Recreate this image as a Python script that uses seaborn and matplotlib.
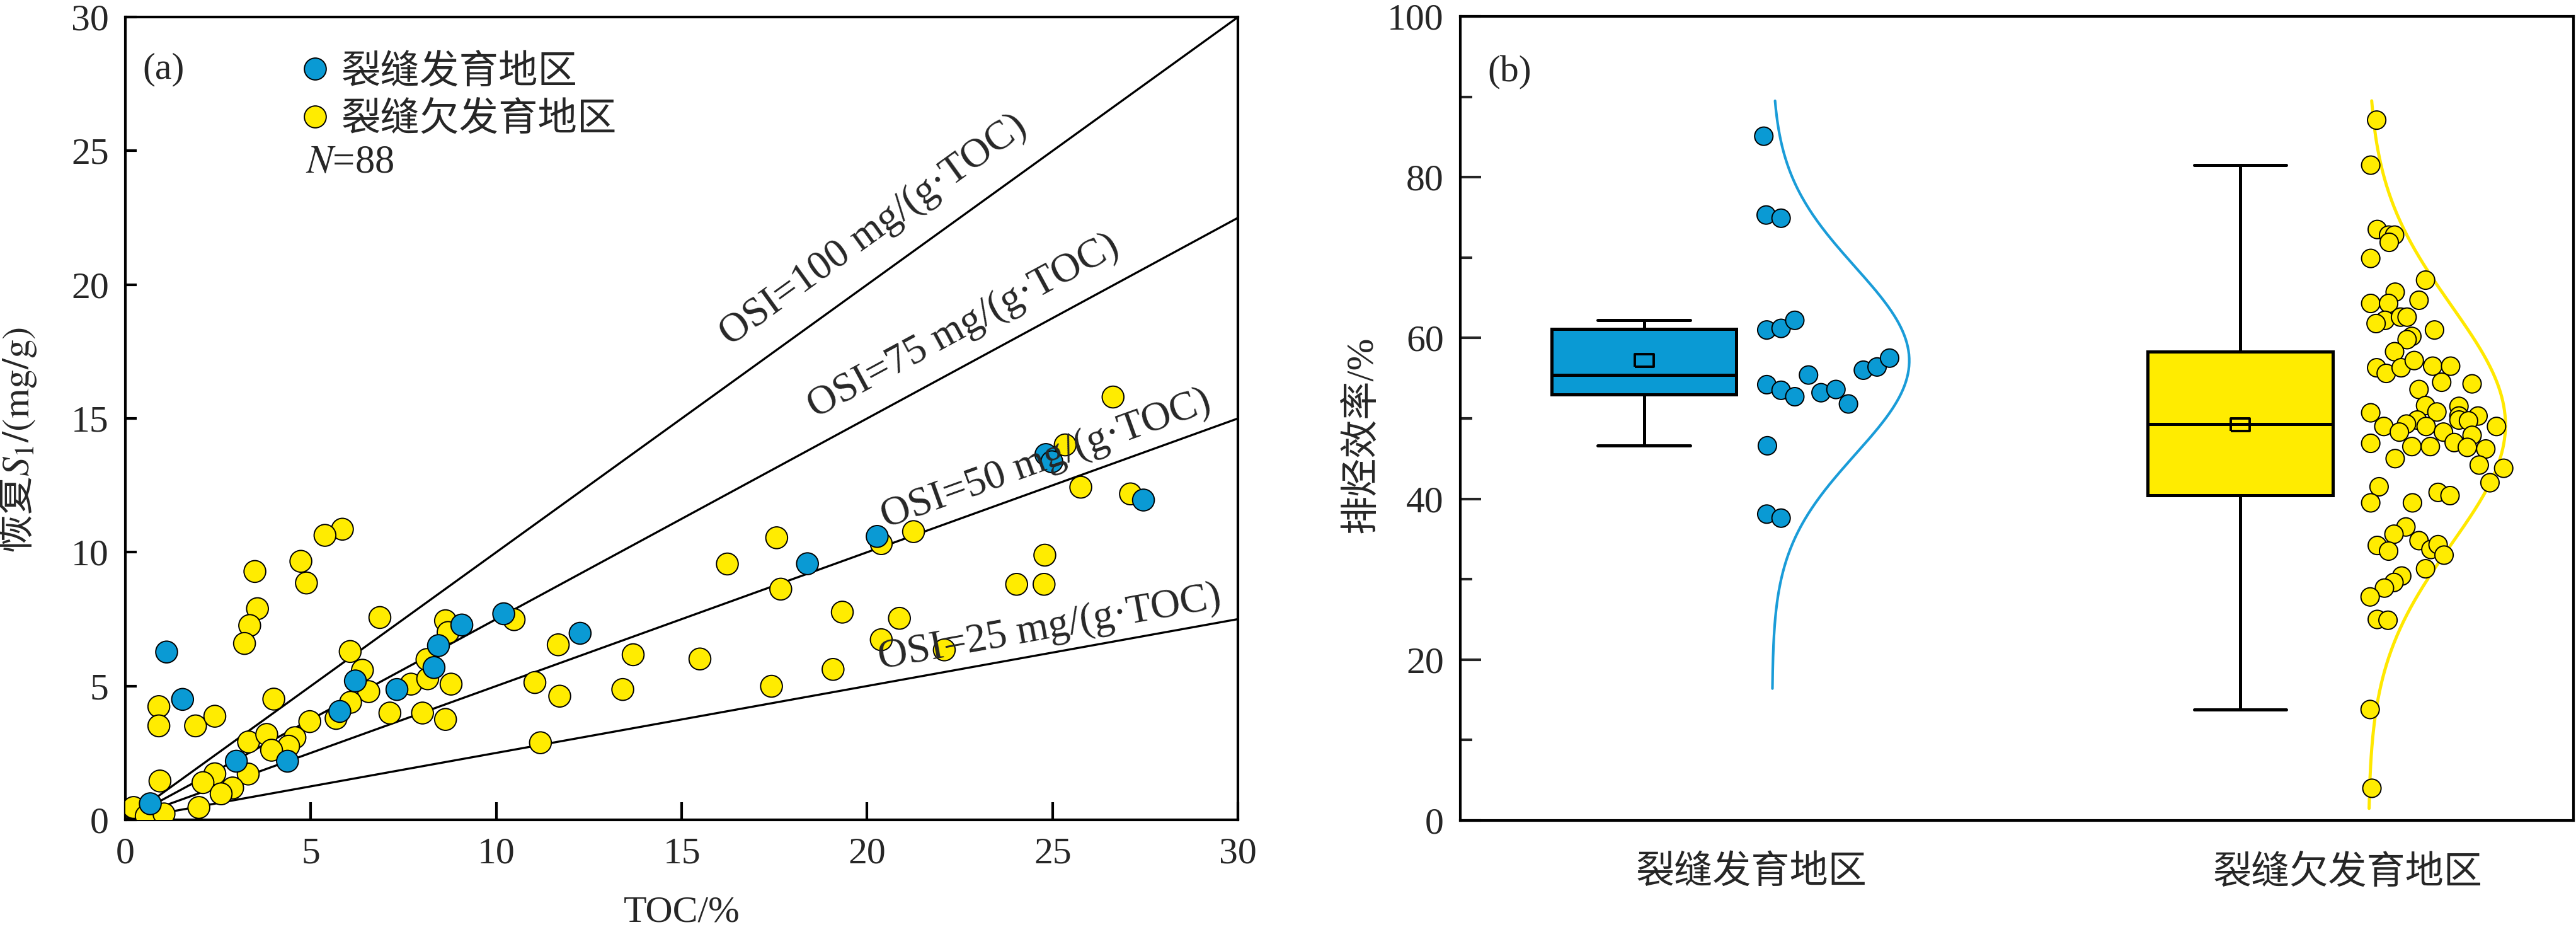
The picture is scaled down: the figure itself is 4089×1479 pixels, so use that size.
import numpy as np
import pandas as pd
import seaborn as sns
import matplotlib.pyplot as plt
from matplotlib.lines import Line2D

# (a) TOC x S1 recuperado
toc_blue = [1.11, 1.54, 0.67, 2.99, 4.37, 5.78, 6.20, 7.32, 8.32, 8.44, 9.07, 10.20,
            12.26, 18.39, 20.27, 24.82, 24.98, 27.45]
s1_blue = [6.27, 4.50, 0.60, 2.19, 2.19, 4.05, 5.19, 4.87, 5.69, 6.51, 7.28, 7.70,
           6.97, 9.57, 10.59, 13.65, 13.38, 11.95]

toc_yellow = [5.85, 5.38, 4.73, 4.88, 3.49, 3.56, 3.35, 3.21, 6.86, 6.06, 6.39, 6.56,
              6.07, 5.68, 0.90, 0.90, 1.89, 2.41, 4.00, 4.97, 3.32, 3.81, 4.57, 4.40,
              3.94, 3.31, 2.41, 2.09, 2.89, 2.58, 0.93, 1.98, 0.22, 0.56, 1.04, 7.13,
              8.01, 8.63, 7.70, 8.15, 8.13, 8.63, 8.70, 8.78,
              10.48, 11.67, 13.69, 15.49, 16.23, 11.04, 11.71, 13.41, 11.19,
              26.63, 25.34, 25.76, 27.10, 24.79, 24.03, 24.77, 17.56, 17.67, 19.33,
              20.87, 20.38, 21.25, 20.38, 22.08, 19.08, 17.42]
s1_yellow = [10.86, 10.63, 9.66, 8.85, 9.28, 7.89, 7.26, 6.59, 7.56, 6.29, 5.59, 4.79,
             4.39, 3.79, 4.23, 3.51, 3.51, 3.87, 4.51, 3.67, 2.91, 3.19, 3.07, 2.75,
             2.60, 1.71, 1.72, 1.39, 1.19, 0.97, 1.45, 0.46, 0.46, 0.14, 0.22, 3.99,
             3.99, 3.75, 5.07, 5.27, 5.99, 7.44, 7.00, 5.07,
             7.48, 6.54, 6.17, 6.01, 9.56, 5.13, 4.62, 4.87, 2.88,
             15.80, 14.01, 12.43, 12.18, 9.89, 8.80, 8.80, 10.54, 8.62, 7.76,
             7.53, 6.73, 10.77, 10.32, 6.35, 5.62, 4.99]

osi_values = [100, 75, 50, 25]

# (b) eficiencia de expulsao
groups = ["裂缝发育地区", "裂缝欠发育地区"]
eff_blue = [85.1, 75.3, 74.9, 61.0, 61.2, 62.2, 54.2, 53.5, 52.7, 55.4, 53.2, 53.6,
            51.8, 56.0, 56.4, 57.5, 46.6, 38.1, 37.6]
jit_blue = [0.021, 0.025, 0.050, 0.026, 0.050, 0.073, 0.026, 0.050, 0.073, 0.096, 0.117,
            0.142, 0.163, 0.188, 0.211, 0.232, 0.027, 0.026, 0.050]

eff_yellow = [87.1, 81.5, 73.5, 72.8, 72.8, 71.9, 69.9, 67.2, 65.7, 64.3, 64.3, 64.7,
              62.2, 61.8, 62.6, 62.6, 61.0, 60.2, 59.8, 58.3, 56.3, 55.6, 56.3, 57.2,
              56.5, 56.5, 54.5, 54.3, 53.6,
              51.6, 51.5, 50.8, 50.7, 50.3, 49.8, 50.3, 49.8, 49.7, 49.3, 49.0, 49.0,
              49.0, 48.3, 48.3, 47.9, 46.9, 46.5, 46.5, 47.0, 46.4, 46.2, 45.0, 44.2,
              43.8, 42.0,
              41.5, 39.5, 39.5, 40.8, 40.4, 36.5, 35.6, 34.2, 33.5, 34.8, 33.7, 34.3,
              33.0, 31.3, 30.4, 29.6, 28.9, 27.8, 25.0, 24.9, 13.8, 4.0]
jit_yellow = [0.049, 0.039, 0.050, 0.069, 0.079, 0.070, 0.039, 0.131, 0.080, 0.039, 0.069, 0.120,
              0.063, 0.048, 0.089, 0.100, 0.146, 0.108, 0.100, 0.079, 0.049, 0.065, 0.090, 0.112,
              0.143, 0.173, 0.158, 0.209, 0.120,
              0.131, 0.187, 0.150, 0.039, 0.219, 0.117, 0.187, 0.187, 0.203, 0.099, 0.061, 0.132,
              0.250, 0.087, 0.161, 0.209, 0.039, 0.108, 0.139, 0.179, 0.201, 0.232, 0.080, 0.221,
              0.262, 0.239,
              0.053, 0.039, 0.109, 0.152, 0.172, 0.098, 0.078, 0.050, 0.069, 0.120, 0.140, 0.152,
              0.162, 0.131, 0.091, 0.078, 0.062, 0.038, 0.050, 0.068, 0.038, 0.041]

c_blue = "#0A9AD4"
c_yellow = "#FFEC00"
curve_colors = ["#1A9CD8", "#FFE800"]

sns.set_style("ticks")
plt.rcParams['font.family'] = ['Liberation Serif', 'Noto Sans CJK SC']
plt.rcParams['mathtext.fontset'] = 'stix'
plt.rcParams['axes.unicode_minus'] = False

fig = plt.figure(figsize=(40.89, 14.79), dpi=100)
ax1 = fig.add_axes([0.0487, 0.1204, 0.4319, 0.8613])
ax2 = fig.add_axes([0.5669, 0.1197, 0.4321, 0.8627])

# ---------------- painel (a) ----------------
df_a = pd.DataFrame({
    "TOC": toc_yellow + toc_blue,
    "S1": s1_yellow + s1_blue,
    "grupo": [groups[1]] * len(toc_yellow) + [groups[0]] * len(toc_blue)})
pal = {groups[0]: c_blue, groups[1]: c_yellow}

x_line = np.array([0.0, 30.0])
for osi in osi_values:
    sns.lineplot(x=x_line, y=x_line * osi / 100, color="black", lw=2.4, ax=ax1, zorder=2)

sns.scatterplot(data=df_a, x="TOC", y="S1", hue="grupo", palette=pal, s=620,
                edgecolor="black", linewidth=1.4, legend=False, ax=ax1, zorder=3)

lab_pos = {100: (16.3, 17.7), 75: (18.6, 15.0), 50: (20.5, 10.9), 25: (20.35, 5.65)}
for osi in osi_values:
    x0, y0 = lab_pos[osi]
    ax1.text(x0, y0, f"OSI={osi} mg/(g·TOC)", rotation=np.degrees(np.arctan(osi / 100)),
             transform_rotates_text=True, rotation_mode="anchor", ha="left", va="baseline",
             fontsize=47, zorder=4)

handles = [Line2D([], [], ls="none", marker="o", ms=25, mfc=c, mec="black", mew=1.4)
           for c in (c_blue, c_yellow)]
ax1.legend(handles, groups, loc="upper left", bbox_to_anchor=(0.1455, 0.9725), frameon=False,
           fontsize=45, handletextpad=0.375, labelspacing=0.28, borderaxespad=0,
           handlelength=0.6)
ax1.text(0.162, 0.818, "$N$=88", transform=ax1.transAxes, va="center", fontsize=45)
ax1.text(0.0153, 0.935, "(a)", transform=ax1.transAxes, va="center", fontsize=43)

ax1.set_xlim(0, 30)
ax1.set_ylim(0, 30)
ax1.set_xticks(range(0, 31, 5))
ax1.set_yticks(range(0, 31, 5))
ax1.tick_params(axis="both", direction="in", width=3, labelsize=43, color="black")
ax1.tick_params(axis="x", length=20, pad=20)
ax1.tick_params(axis="y", length=13, pad=19)
ax1.set_xlabel("TOC/%", fontsize=43, labelpad=28)
ax1.set_ylabel(r"恢复$S_1/\mathrm{(mg/g)}$", fontsize=44, family="Noto Sans CJK SC")
ax1.yaxis.set_label_coords(-0.078, 0.473)
for sp in ax1.spines.values():
    sp.set_linewidth(3)
    sp.set_color("black")

# ---------------- painel (b) ----------------
df_b = pd.DataFrame({
    "组": [groups[0]] * len(eff_blue) + [groups[1]] * len(eff_yellow),
    "效率": eff_blue + eff_yellow,
    "偏移": jit_blue + jit_yellow})
df_b["code"] = df_b["组"].map({g: i for i, g in enumerate(groups)})
df_b["box_x"] = df_b["code"] - 0.18
df_b["pt_x"] = df_b["code"] + df_b["偏移"]

rect = [(-1.45, -1), (1.45, -1), (1.45, 1), (-1.45, 1), (-1.45, -1)]
sns.boxplot(data=df_b, x="box_x", y="效率", hue="组", palette=pal, native_scale=True,
            dodge=False, width=0.31, whis=1.5, showfliers=False, linewidth=3.6,
            linecolor="black", saturation=1, legend=False, showmeans=True,
            meanprops=dict(marker=rect, markerfacecolor="none", markeredgecolor="black",
                           markersize=21, markeredgewidth=2.8),
            ax=ax2)

sns.scatterplot(data=df_b, x="pt_x", y="效率", hue="组", palette=pal, s=440,
                edgecolor="black", linewidth=1.4, legend=False, ax=ax2, zorder=3)

# curva normal ajustada
curve_lw = [3.0, 3.6]
for i, g in enumerate(groups):
    v = df_b.loc[df_b["组"] == g, "效率"]
    mu, sd = v.mean(), v.std()
    yy = np.linspace(max(mu - 3.5 * sd, 1.5), min(mu + 3.5 * sd, 89.5), 300)
    xx = i + 0.035 + 0.23 * np.exp(-0.5 * ((yy - mu) / sd) ** 2)
    sns.lineplot(x=xx, y=yy, sort=False, estimator=None, color=curve_colors[i],
                 lw=curve_lw[i], ax=ax2)

ax2.text(0.0243, 0.930, "(b)", transform=ax2.transAxes, va="center", fontsize=43)

ax2.set_xlim(-0.488, 1.379)
ax2.set_ylim(0, 100)
ax2.set_xticks([0, 1])
ax2.set_xticklabels(groups)
ax2.set_yticks(range(0, 101, 20))
ax2.set_yticks(range(10, 100, 20), minor=True)
ax2.tick_params(axis="y", which="major", direction="in", length=24, width=3, labelsize=43, pad=19)
ax2.tick_params(axis="y", which="minor", direction="in", length=14, width=3)
ax2.tick_params(axis="x", length=0, labelsize=44, pad=40)
ax2.set_xlabel("")
ax2.set_ylabel("排烃效率/%", fontsize=44)
ax2.yaxis.set_label_coords(-0.072, 0.48)
for sp in ax2.spines.values():
    sp.set_linewidth(3)
    sp.set_color("black")

fig.savefig("out.png", dpi=100)
